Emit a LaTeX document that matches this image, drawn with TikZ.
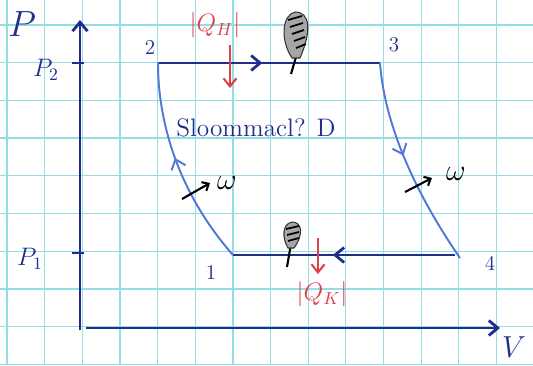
\documentclass[tikz,border=0pt]{standalone}
\usetikzlibrary{arrows.meta, decorations.markings, positioning}
\definecolor{inkblue}{rgb}{0.12,0.18,0.55}
\definecolor{penblue}{rgb}{0.32,0.47,0.84}
\definecolor{gridcyan}{rgb}{0.58,0.87,0.89}
\definecolor{inkred}{rgb}{0.86,0.25,0.30}
\tikzset{
  barb/.tip={Straight Barb[length=1.8mm, width=3mm]},
  axisline/.style={inkblue, line width=1.6pt, -barb},
  isobar/.style={inkblue, line width=1.6pt},
  adiabat/.style={penblue, line width=1.1pt},
  midarrow/.style={postaction={decorate},
    decoration={markings, mark=at position #1 with {\arrow{barb}}}},
  heatarrow/.style={inkred, line width=1.2pt, -{Straight Barb[length=1.6mm, width=2.6mm]}},
  workarrow/.style={black, line width=1.2pt, -{Straight Barb[length=1.1mm, width=2mm]}},
  lbl/.style={inkblue, font=\Large},
  heatlbl/.style={inkred, font=\Large},
  flame/.style={fill=gray!70, draw=black!80, line width=0.6pt},
}

\begin{document}
\begin{tikzpicture}[x=0.02cm, y=-0.02cm]
  \useasboundingbox[fill=white] (0,0) rectangle (533,365);

  % squared paper
  \foreach \i in {0,...,14}
    \draw[gridcyan, line width=0.7pt] ({7+37.65*\i},0) -- ({7+37.65*\i},365);
  \foreach \j in {0,...,9}
    \draw[gridcyan, line width=0.7pt] (0,{25+37.7*\j}) -- (533,{25+37.7*\j});

  % axes
  \coordinate (origin) at (80,330);
  \coordinate (ptop) at (80,20);
  \coordinate (vstart) at (86,328);
  \coordinate (vend) at (500,328);
  \draw[axisline] (origin) -- (ptop);
  \draw[axisline] (vstart) -- (vend);
  \node[lbl, font=\huge] (plabel) at (22,24) {$P$};
  \node[lbl, font=\LARGE] (vlabel) at (514,347) {$V$};

  % pressure ticks
  \coordinate (t2a) at (72,63);  \coordinate (t2b) at (84,63);
  \coordinate (t1a) at (72,253); \coordinate (t1b) at (84,253);
  \draw[isobar, line width=1.2pt] (t2a) -- (t2b);
  \draw[isobar, line width=1.2pt] (t1a) -- (t1b);
  \node[lbl] (ptwo) at (46,70) {$P_2$};
  \node[lbl] (pone) at (30,259) {$P_1$};

  % cycle corners
  \coordinate (c1) at (233,255);
  \coordinate (c2) at (158,63);
  \coordinate (c3) at (380,63);
  \coordinate (c4) at (460,258);
  \coordinate (c4b) at (455,255);
  \node[lbl, font=\large] (n1) at (211,272) {1};
  \node[lbl, font=\large] (n2) at (150,47) {2};
  \node[lbl, font=\large] (n3) at (394,45) {3};
  \node[lbl, font=\large] (n4) at (490,263) {4};

  \draw[isobar, midarrow=0.47] (c2) -- (c3);
  \draw[adiabat, midarrow=0.45] (c3) .. controls (385,130) and (420,200) .. (c4);
  \draw[isobar, midarrow=0.55] (c4b) -- (c1);
  \draw[adiabat, midarrow=0.54] (c1) .. controls (180,195) and (158,125) .. (c2);

  \node[lbl] (machine) at (256,128) {Sloommacl? D};

  % work
  \coordinate (wla) at (182,199); \coordinate (wlb) at (210,183);
  \coordinate (wra) at (405,192); \coordinate (wrb) at (432,178);
  \draw[workarrow] (wla) -- (wlb);
  \draw[workarrow] (wra) -- (wrb);
  \node[font=\LARGE] (wl) at (227,183) {$\omega$};
  \node[font=\LARGE] (wr) at (456,174) {$\omega$};

  % heat
  \node[heatlbl] (qh) at (215,25) {$|Q_H|$};
  \coordinate (qha) at (230,45); \coordinate (qhb) at (230,88);
  \draw[heatarrow] (qha) -- (qhb);
  \node[heatlbl] (qk) at (322,294) {$|Q_K|$};
  \coordinate (qka) at (318,238); \coordinate (qkb) at (318,274);
  \draw[heatarrow] (qka) -- (qkb);

  % flames
  \draw[black, line width=1.2pt] (298,50) -- (291,74);
  \draw[flame] (292,58) .. controls (280,40) and (282,15) .. (295,12)
    .. controls (310,12) and (312,30) .. (300,58) -- cycle;
  \foreach \k in {0,...,4}
    \draw[black, line width=1pt] ({288+2*\k},{20+7*\k}) -- ({302+1*\k},{16+7*\k});
  \draw[black, line width=1.2pt] (292,238) -- (287,267);
  \draw[flame] (288,248) .. controls (282,238) and (282,224) .. (292,222)
    .. controls (302,222) and (304,234) .. (294,248) -- cycle;
  \foreach \k in {0,...,2}
    \draw[black, line width=1pt] ({286+1*\k},{229+6*\k}) -- ({299},{226+6*\k});
\end{tikzpicture}
\end{document}
